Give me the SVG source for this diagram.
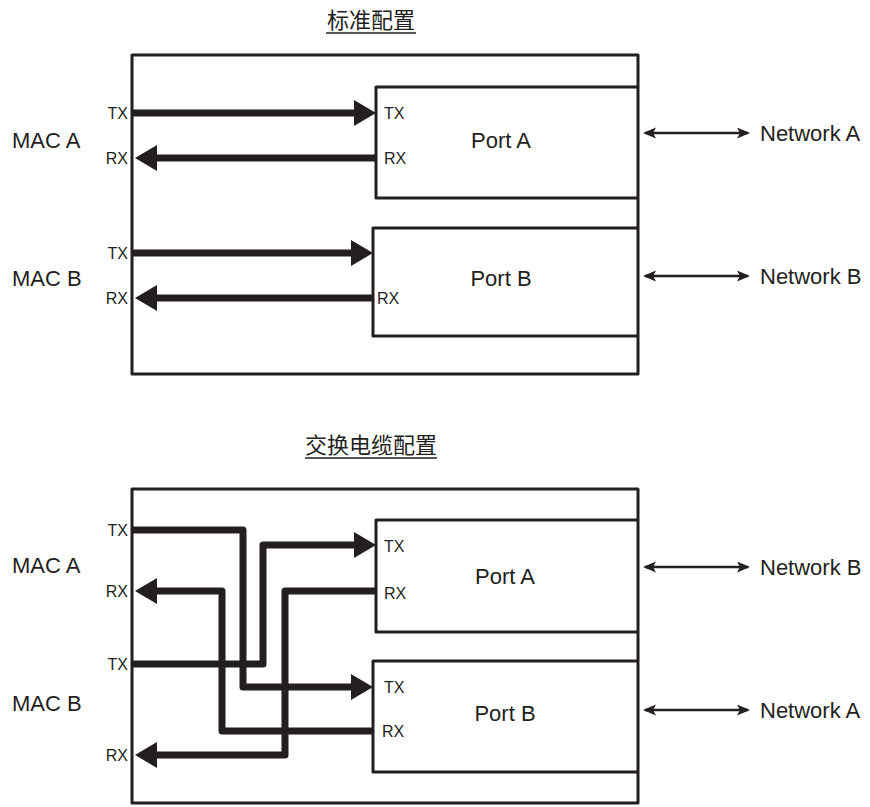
<svg xmlns="http://www.w3.org/2000/svg" width="870" height="807" viewBox="0 0 870 807">
<style>
.box{fill:none;stroke:#231f20;stroke-width:3;stroke-linejoin:round}
.wire{fill:none;stroke:#231f20;stroke-width:7;stroke-linejoin:round}
.net{fill:none;stroke:#231f20;stroke-width:2.5}
.t{font-family:"Liberation Sans",Arial,sans-serif;fill:#231f20}
.s{font-size:16px}
.m{font-size:22px}
.ttl{font-family:"Noto Sans CJK SC","Noto Sans",sans-serif;font-size:22px;fill:#231f20;text-anchor:middle}
.ul{stroke:#231f20;stroke-width:1.5}
</style>
<defs>
<marker id="big" markerUnits="userSpaceOnUse" markerWidth="24" markerHeight="28" refX="12" refY="13" orient="auto">
<path d="M0,0 L22,13 L0,26 z" fill="#231f20"/>
</marker>
<marker id="sm" markerUnits="userSpaceOnUse" markerWidth="14" markerHeight="12" refX="11" refY="5.5" orient="auto-start-reverse">
<path d="M0,0 L13,5.5 L0,11 L3,5.5 z" fill="#231f20"/>
</marker>
</defs>

<!-- Top: standard configuration -->
<g id="title1">
<text class="ttl" x="371" y="28">标准配置</text>
<line class="ul" x1="326" y1="33" x2="416" y2="33"/>
</g>
<g id="chassis1"><rect class="box" x="132" y="55" width="506" height="319"/></g>
<g id="portA1">
<path class="box" d="M638,87 H376 V198 H638"/>
<text class="t s" x="384" y="119">TX</text>
<text class="t s" x="384" y="164">RX</text>
<text class="t m" x="501" y="148" text-anchor="middle">Port A</text>
</g>
<g id="portB1">
<path class="box" d="M638,228 H373 V336 H638"/>
<text class="t s" x="377" y="304">RX</text>
<text class="t m" x="501" y="286" text-anchor="middle">Port B</text>
</g>
<g id="macA1">
<text class="t m" x="12" y="148">MAC A</text>
<text class="t s" x="128" y="119" text-anchor="end">TX</text>
<text class="t s" x="128" y="164" text-anchor="end">RX</text>
</g>
<g id="macB1">
<text class="t m" x="12" y="286">MAC B</text>
<text class="t s" x="128" y="259" text-anchor="end">TX</text>
<text class="t s" x="128" y="304" text-anchor="end">RX</text>
</g>
<g id="netA1"><text class="t m" x="760" y="141">Network A</text></g>
<g id="netB1"><text class="t m" x="760" y="284">Network B</text></g>

<!-- Bottom: crossover cable configuration -->
<g id="title2">
<text class="ttl" x="371" y="453">交换电缆配置</text>
<line class="ul" x1="305" y1="458" x2="437" y2="458"/>
</g>
<g id="chassis2"><rect class="box" x="132" y="489" width="506" height="314"/></g>
<g id="portA2">
<path class="box" d="M638,520 H376 V632 H638"/>
<text class="t s" x="384" y="552">TX</text>
<text class="t s" x="384" y="599">RX</text>
<text class="t m" x="505" y="584" text-anchor="middle">Port A</text>
</g>
<g id="portB2">
<path class="box" d="M638,661 H373 V772 H638"/>
<text class="t s" x="384" y="693">TX</text>
<text class="t s" x="382" y="737">RX</text>
<text class="t m" x="505" y="721" text-anchor="middle">Port B</text>
</g>
<g id="macA2">
<text class="t m" x="12" y="573">MAC A</text>
<text class="t s" x="128" y="536" text-anchor="end">TX</text>
<text class="t s" x="128" y="597" text-anchor="end">RX</text>
</g>
<g id="macB2">
<text class="t m" x="12" y="711">MAC B</text>
<text class="t s" x="128" y="670" text-anchor="end">TX</text>
<text class="t s" x="128" y="761" text-anchor="end">RX</text>
</g>
<g id="netB2"><text class="t m" x="760" y="575">Network B</text></g>
<g id="netA2"><text class="t m" x="760" y="718">Network A</text></g>

<g id="connectors">
<path class="wire" d="M133,113 H366" marker-end="url(#big)"/>
<path class="wire" d="M376,158 H145" marker-end="url(#big)"/>
<path class="wire" d="M133,253 H363" marker-end="url(#big)"/>
<path class="wire" d="M373,298 H145" marker-end="url(#big)"/>
<path class="net" d="M645,133 H748" marker-start="url(#sm)" marker-end="url(#sm)"/>
<path class="net" d="M645,276 H748" marker-start="url(#sm)" marker-end="url(#sm)"/>

<path class="wire" d="M133,530 H243 V687 H363" marker-end="url(#big)"/>
<path class="wire" d="M133,664 H263 V545 H366" marker-end="url(#big)"/>
<path class="wire" d="M373,731 H222 V591 H145" marker-end="url(#big)"/>
<path class="wire" d="M376,591 H285 V755 H145" marker-end="url(#big)"/>
<path class="net" d="M645,567 H748" marker-start="url(#sm)" marker-end="url(#sm)"/>
<path class="net" d="M645,710 H748" marker-start="url(#sm)" marker-end="url(#sm)"/>
</g>
</svg>
